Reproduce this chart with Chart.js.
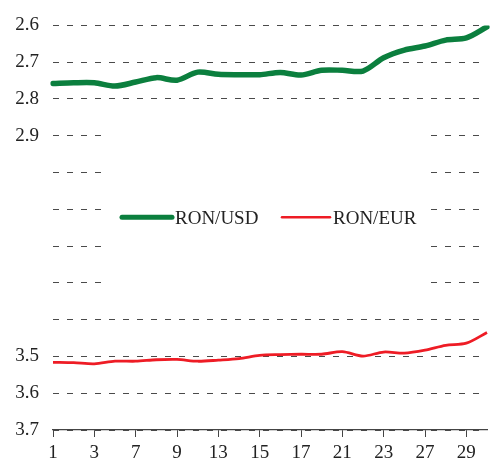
<!DOCTYPE html>
<html>
<head>
<meta charset="utf-8">
<script src="https://cdn.jsdelivr.net/npm/chart.js@4.4.1/dist/chart.umd.min.js"></script>
<style>
  html, body { margin: 0; padding: 0; background: #fff; }
  #wrap { width: 492px; height: 461px; }
</style>
</head>
<body>
<div id="wrap"><canvas id="chart" width="492" height="461"></canvas></div>
<script>
// business days of the month (every other one is labelled)
const days = ['1', '2', '3', '6', '7', '8', '9', '10', '13', '14', '15', '16', '17',
              '20', '21', '22', '23', '24', '27', '28', '29', '30'];

const ronUsd = [2.758, 2.756, 2.756, 2.765, 2.754, 2.742, 2.749, 2.727, 2.733, 2.734, 2.734,
                2.728, 2.735, 2.722, 2.722, 2.724, 2.688, 2.667, 2.656, 2.640, 2.634, 2.604];

const ronEur = [3.516, 3.517, 3.520, 3.513, 3.513, 3.509, 3.508, 3.513, 3.510, 3.506, 3.497,
                3.495, 3.494, 3.494, 3.487, 3.499, 3.488, 3.491, 3.483, 3.470, 3.464, 3.435];

// tick values that get a label on the left axis
const shownTicks = [2.6, 2.7, 2.8, 2.9, 3.5, 3.6, 3.7];

const serif = "'Liberation Serif', 'DejaVu Serif', serif";

// legend sits in the middle of the plot on a white box that hides the grid
const boxLegend = {
    id: 'boxLegend',
    beforeDatasetsDraw(chart) {
        const ctx = chart.ctx;
        const a = chart.chartArea;
        const y = chart.scales.y;
        const top = y.getPixelForValue(2.9) - 8;
        const bottom = y.getPixelForValue(3.3) + 8;
        ctx.save();
        ctx.fillStyle = '#fff';
        ctx.fillRect(a.left + 54, top, a.right - a.left - 116, bottom - top);

        const cy = y.getPixelForValue(3.1) + 8;
        const items = [
            { x: a.left + 69, len: 50, ds: chart.data.datasets[0], w: 5 },
            { x: a.left + 229, len: 48, ds: chart.data.datasets[1], w: 2.5 }
        ];
        ctx.font = '19px ' + serif;
        ctx.textBaseline = 'middle';
        items.forEach(function (it) {
            ctx.strokeStyle = it.ds.borderColor;
            ctx.lineWidth = it.w;
            ctx.lineCap = 'round';
            ctx.beginPath();
            ctx.moveTo(it.x, cy);
            ctx.lineTo(it.x + it.len, cy);
            ctx.stroke();
            ctx.fillStyle = '#222';
            ctx.fillText(it.ds.label, it.x + it.len + 3, cy + 2);
        });
        ctx.restore();
    }
};

new Chart(document.getElementById('chart').getContext('2d'), {
    type: 'line',
    data: {
        labels: days,
        datasets: [{
            label: 'RON/USD',
            data: ronUsd,
            borderColor: '#0b7f3e',
            borderWidth: 5.5,
            pointRadius: 0,
            tension: 0.3,
            borderCapStyle: 'round'
        }, {
            label: 'RON/EUR',
            data: ronEur,
            borderColor: '#ee1c25',
            borderWidth: 2.8,
            pointRadius: 0,
            tension: 0.3
        }]
    },
    options: {
        responsive: false,
        animation: false,
        layout: { padding: { top: 14, right: 5, left: 0, bottom: 0 } },
        plugins: {
            legend: { display: false },
            tooltip: { enabled: false }
        },
        scales: {
            x: {
                offset: false,
                afterFit: function (s) { s.height = 31; },
                border: { display: true, color: '#444', width: 1.2 },
                grid: {
                    display: true,
                    drawOnChartArea: false,
                    drawTicks: true,
                    tickLength: 7,
                    color: '#444'
                },
                ticks: {
                    autoSkip: false,
                    maxRotation: 0,
                    padding: 5,
                    color: '#222',
                    font: { family: serif, size: 19 },
                    callback: function (v, i) { return (i % 2 === 0 && i < days.length - 1) ? days[i] : null; }
                }
            },
            y: {
                reverse: true,
                min: 2.6,
                max: 3.7,
                afterFit: function (s) { s.width = 53; },
                grid: {
                    drawTicks: false,
                    color: '#4a4a4a',
                    lineWidth: 1
                },
                border: { display: false, dash: [6, 8] },
                ticks: {
                    stepSize: 0.1,
                    padding: 14,
                    color: '#222',
                    font: { family: serif, size: 19 },
                    callback: function (v) {
                        const r = Math.round(v * 10) / 10;
                        return shownTicks.indexOf(r) >= 0 ? r.toFixed(1) : '';
                    }
                }
            }
        }
    },
    plugins: [boxLegend]
});
</script>
</body>
</html>
